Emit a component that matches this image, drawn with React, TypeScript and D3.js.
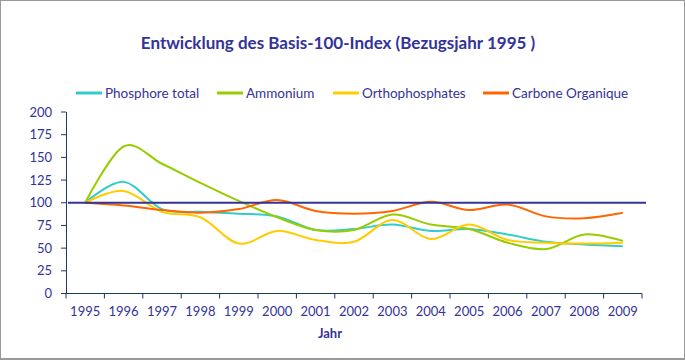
import { useMemo } from "react";
import * as d3 from "d3";

const years = ["1995", "1996", "1997", "1998", "1999", "2000", "2001", "2002", "2003", "2004", "2005", "2006", "2007", "2008", "2009"];
const phosphoreTotal = [100, 123, 93, 90, 88, 85, 70, 71, 76, 69, 71, 65, 57, 54, 52];
const ammonium = [100, 162, 143, 122, 102, 84, 70, 70, 87, 76, 71, 56, 49, 65, 58];
const orthophosphates = [100, 113, 90, 84, 55, 69, 59, 57, 81, 60, 76, 59, 56, 55, 56];
const carboneOrganique = [100, 97, 92, 89, 93, 103, 91, 88, 91, 101, 92, 98, 85, 83, 89];
const yTicks = [0, 25, 50, 75, 100, 125, 150, 175, 200];

const series = [
  { name: "Phosphore total", values: phosphoreTotal, color: "#33CCCC", lx: 76 },
  { name: "Ammonium", values: ammonium, color: "#99CC00", lx: 217 },
  { name: "Orthophosphates", values: orthophosphates, color: "#FFCC00", lx: 333 },
  { name: "Carbone Organique", values: carboneOrganique, color: "#FF6600", lx: 483 },
];

const W = 685;
const H = 360;
const navy = "#333399";
const axisColor = "#1F3864";
const font = "Lato, 'Open Sans', sans-serif";

export default function App() {
  const x = useMemo(
    () => d3.scaleBand<string>().domain(years).range([66, 642]),
    []
  );
  const y = useMemo(() => d3.scaleLinear().domain([0, 200]).range([293.5, 112]), []);

  // Excel-Glättung ~ Catmull-Rom (uniform)
  const line = d3
    .line<number>()
    .x((_, i) => (x(years[i]) ?? 0) + x.bandwidth() / 2)
    .y((d) => y(d))
    .curve(d3.curveCatmullRom.alpha(0));

  const bandEdges = years.map((yr) => x(yr) ?? 0).concat([x.range()[1]]);

  return (
    <div style={{ position: "fixed", left: 0, top: 0 }}>
      <svg width={W} height={H} style={{ display: "block", fontFamily: font }}>
        <rect x={0} y={0} width={W} height={H} fill="#fff" />
        <rect x={0.5} y={0.5} width={W - 1} height={H - 2} fill="none" stroke="#999" strokeWidth={1} />
        <line x1={0} x2={W} y1={H - 1} y2={H - 1} stroke="#999" strokeWidth={2} />

        {/* Titel */}
        <text x={338} y={49} textAnchor="middle" fill={navy} fontSize={17} fontWeight="bold">
          Entwicklung des Basis-100-Index (Bezugsjahr 1995 )
        </text>

        {/* Legende */}
        {series.map((s) => (
          <g key={s.name}>
            <line x1={s.lx} x2={s.lx + 26} y1={93} y2={93} stroke={s.color} strokeWidth={3} />
            <text x={s.lx + 29} y={98} fill={navy} fontSize={13.5}>
              {s.name}
            </text>
          </g>
        ))}

        {/* Y-Achse */}
        <line x1={66.5} x2={66.5} y1={y(200)} y2={y(0)} stroke={axisColor} strokeWidth={1} />
        {yTicks.map((t) => (
          <g key={t}>
            <line x1={61} x2={66} y1={y(t)} y2={y(t)} stroke={axisColor} />
            <text x={52} y={y(t) + 4.5} textAnchor="end" fill={navy} fontSize={13}>
              {t}
            </text>
          </g>
        ))}

        {/* X-Achse */}
        <line x1={66} x2={642} y1={y(0)} y2={y(0)} stroke={axisColor} strokeWidth={1} />
        {bandEdges.map((e, i) => (
          <line key={i} x1={e} x2={e} y1={y(0)} y2={y(0) + 5} stroke={axisColor} />
        ))}
        {years.map((yr) => (
          <text
            key={yr}
            x={(x(yr) ?? 0) + x.bandwidth() / 2}
            y={316}
            textAnchor="middle"
            fill={navy}
            fontSize={13}
          >
            {yr}
          </text>
        ))}
        <text x={330} y={338} textAnchor="middle" fill={navy} fontSize={13} fontWeight="bold">
          Jahr
        </text>

        {/* Linien */}
        {series.map((s) => (
          <path key={s.name} d={line(s.values) ?? ""} fill="none" stroke={s.color} strokeWidth={2} />
        ))}

        {/* Referenzlinie 100 */}
        <line x1={68} x2={646} y1={y(100)} y2={y(100)} stroke={navy} strokeWidth={2} />
      </svg>
    </div>
  );
}
